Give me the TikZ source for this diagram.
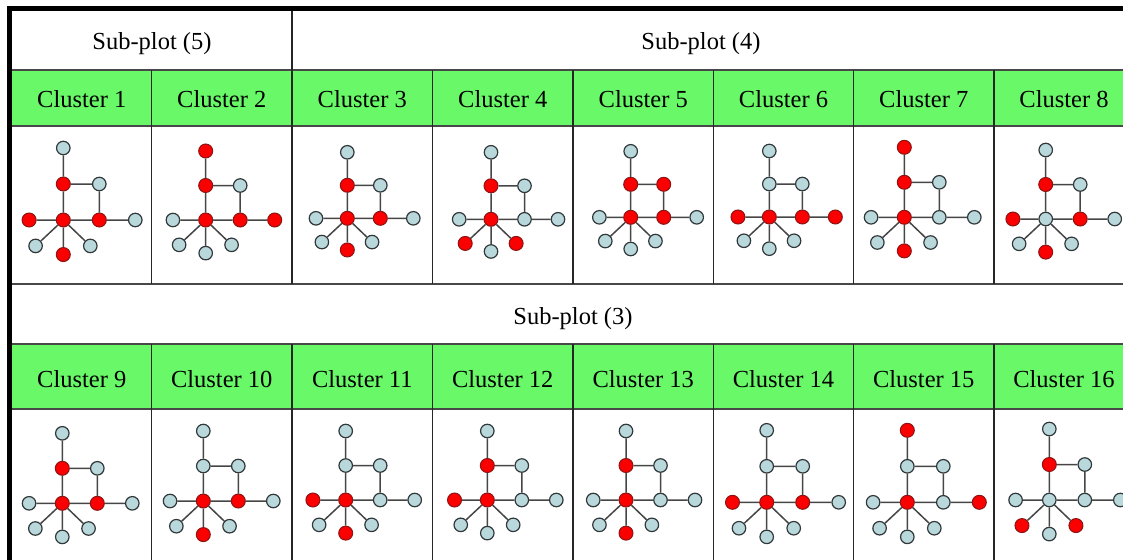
\documentclass[tikz,border=0pt]{standalone}
\usepackage{fontspec}
\setmainfont{Liberation Serif}
\definecolor{gridgray}{RGB}{72,72,72}
\definecolor{hdrgreen}{RGB}{104,248,104}
\definecolor{nodeblue}{RGB}{184,216,220}
\definecolor{nodeedge}{RGB}{50,56,58}
\definecolor{nodered}{RGB}{250,0,0}
\definecolor{rededge}{RGB}{140,20,20}
\definecolor{edgegray}{RGB}{70,70,70}
\tikzset{
  nb/.style={circle,draw=nodeedge,fill=nodeblue,line width=1.2pt,minimum size=13.5pt,inner sep=0pt},
  nr/.style={circle,draw=rededge,fill=nodered,line width=1pt,minimum size=14pt,inner sep=0pt},
  gedge/.style={draw=edgegray,line width=1.5pt},
  lab/.style={font=\fontsize{24.5}{29}\selectfont,anchor=base,inner sep=0pt},
  hline/.style={draw=gridgray,line width=1.8pt},
  vline/.style={draw=black!85,line width=1.5pt}
}
\newcommand\cgraph[5]{%
  \begin{scope}[shift={(#2,#3)}]
    \begin{scope}[x=#4pt,y=-#4pt]
      \coordinate (#1Tc) at (0,-2);
      \coordinate (#1Ac) at (0,-1);
      \coordinate (#1Bc) at (1,-1);
      \coordinate (#1Cc) at (0,0);
      \coordinate (#1Dc) at (1,0);
      \coordinate (#1Ec) at (2,0);
      \coordinate (#1Fc) at (-0.95,0);
      \coordinate (#1Gc) at (-0.77,0.72);
      \coordinate (#1Hc) at (0,0.96);
      \coordinate (#1Ic) at (0.75,0.72);
    \end{scope}
    \foreach \nm/\cl in {#5}{\node[\cl] (#1\nm) at (#1\nm c) {};}
    \draw[gedge] (#1T) -- (#1A) (#1A) -- (#1B) (#1A) -- (#1C) (#1B) -- (#1D)
      (#1C) -- (#1D) (#1D) -- (#1E) (#1F) -- (#1C) (#1C) -- (#1G)
      (#1C) -- (#1H) (#1C) -- (#1I);
  \end{scope}}
\begin{document}
\begin{tikzpicture}[x=1pt,y=-1pt]
\clip (0,0) rectangle (1123,559);
\fill[white] (0,0) rectangle (1123,559);
% green header rows
\fill[hdrgreen] (12,70) rectangle (1140,126);
\fill[hdrgreen] (12,344) rectangle (1140,409);
% horizontal grid lines
\foreach \yy in {70,126,284,344,409} \draw[hline] (12,\yy) -- (1140,\yy);
% vertical grid lines
\foreach \xx in {151.5,432.5,573,713.5,853.5,994} {
  \draw[vline] (\xx,70) -- (\xx,284);
  \draw[vline] (\xx,344) -- (\xx,565);
}
\draw[vline] (292,11) -- (292,284);
\draw[vline] (292,344) -- (292,565);
% thick outer frame
\fill[black] (7,6) rectangle (1140,11);
\fill[black] (7,6) rectangle (12,565);
% headers
\node[lab] (sp5) at (152,50) {Sub-plot (5)};
\node[lab] (sp4) at (701,50) {Sub-plot (4)};
\node[lab] (sp3) at (573,324) {Sub-plot (3)};
\foreach \i/\xx in {1/81.75,2/221.75,3/362.25,4/502.75,5/643.25,6/783.5,7/923.75,8/1064}
  \node[lab] (cl\i) at (\xx,108) {Cluster \i};
\foreach \i/\xx in {9/81.75,10/221.75,11/362.25,12/502.75,13/643.25,14/783.5,15/923.75,16/1064}
  \node[lab] (cl\i) at (\xx,387) {Cluster \i};
% graphs row 1
\cgraph{ga}{63.3}{220}{36}{T/nb,A/nr,B/nb,C/nr,D/nr,E/nb,F/nr,G/nb,H/nr,I/nb}
\cgraph{gb}{205.7}{220}{34.5}{T/nr,A/nr,B/nb,C/nr,D/nr,E/nr,F/nb,G/nb,H/nb,I/nb}
\cgraph{gc}{347.3}{218.3}{33}{T/nb,A/nr,B/nb,C/nr,D/nr,E/nb,F/nb,G/nb,H/nr,I/nb}
\cgraph{gd}{491}{219.3}{33.5}{T/nb,A/nr,B/nb,C/nr,D/nb,E/nb,F/nb,G/nr,H/nb,I/nr}
\cgraph{ge}{630.7}{217.3}{33}{T/nb,A/nr,B/nr,C/nr,D/nr,E/nb,F/nb,G/nb,H/nb,I/nb}
\cgraph{gf}{769.3}{217}{33}{T/nb,A/nb,B/nb,C/nr,D/nr,E/nr,F/nr,G/nb,H/nb,I/nb}
\cgraph{gg}{904.3}{217.3}{35}{T/nr,A/nr,B/nb,C/nr,D/nb,E/nb,F/nb,G/nb,H/nr,I/nb}
\cgraph{gh}{1045.7}{219}{34.5}{T/nb,A/nr,B/nb,C/nb,D/nr,E/nb,F/nr,G/nb,H/nr,I/nb}
% graphs row 2
\cgraph{gi}{62.3}{503.3}{35}{T/nb,A/nr,B/nb,C/nr,D/nr,E/nb,F/nb,G/nb,H/nb,I/nb}
\cgraph{gj}{203.3}{501}{35}{T/nb,A/nb,B/nb,C/nr,D/nr,E/nb,F/nb,G/nb,H/nr,I/nb}
\cgraph{gk}{345.7}{500}{34.5}{T/nb,A/nb,B/nb,C/nr,D/nb,E/nb,F/nr,G/nb,H/nr,I/nb}
\cgraph{gl}{487.3}{500}{34.5}{T/nb,A/nr,B/nb,C/nr,D/nb,E/nb,F/nr,G/nb,H/nb,I/nb}
\cgraph{gm}{626}{500}{34.5}{T/nb,A/nr,B/nb,C/nr,D/nb,E/nb,F/nb,G/nb,H/nr,I/nb}
\cgraph{gn}{766.7}{502.3}{36}{T/nb,A/nb,B/nb,C/nr,D/nr,E/nb,F/nr,G/nb,H/nb,I/nb}
\cgraph{go}{907.3}{502.3}{36}{T/nr,A/nb,B/nb,C/nr,D/nb,E/nr,F/nb,G/nb,H/nb,I/nb}
\cgraph{gp}{1049.3}{500}{35.5}{T/nb,A/nr,B/nb,C/nb,D/nb,E/nb,F/nb,G/nr,H/nb,I/nr}
\end{tikzpicture}
\end{document}
